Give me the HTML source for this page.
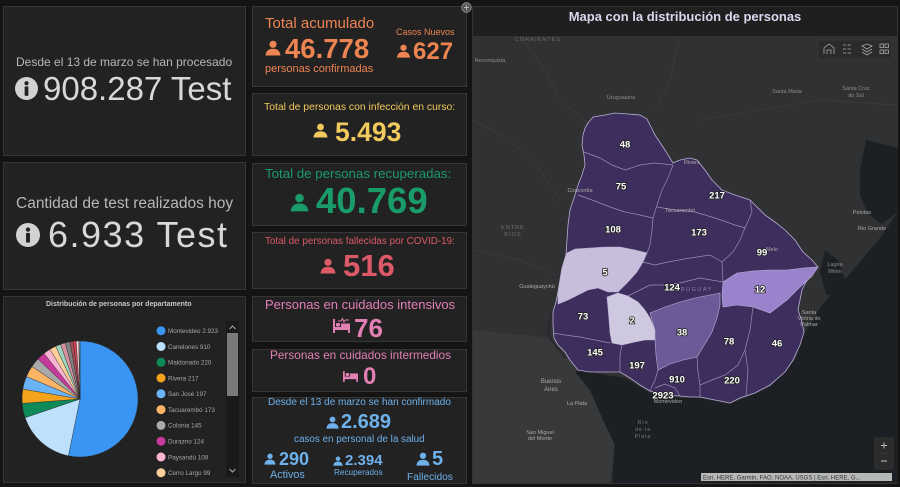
<!DOCTYPE html>
<html><head><meta charset="utf-8">
<style>
*{margin:0;padding:0;box-sizing:border-box}
html,body{width:900px;height:487px;overflow:hidden;background:#141414;font-family:"Liberation Sans",sans-serif}
.p{position:absolute;background:#222;border:1px solid #363636}
.t{position:absolute;white-space:nowrap;line-height:1}
.b{font-weight:bold}
svg.a{position:absolute;overflow:visible}
</style></head><body>

<!-- left column panels -->
<div class="p" style="left:3px;top:6px;width:243px;height:150px"></div>
<div class="p" style="left:3px;top:162px;width:243px;height:128px"></div>
<div class="p" style="left:3px;top:296px;width:243px;height:187px"></div>

<!-- middle column panels -->
<div class="p" style="left:252px;top:6px;width:215px;height:81px"></div>
<div class="p" style="left:252px;top:93px;width:215px;height:63px"></div>
<div class="p" style="left:252px;top:163px;width:215px;height:63px"></div>
<div class="p" style="left:252px;top:232px;width:215px;height:57px"></div>
<div class="p" style="left:252px;top:296px;width:215px;height:46px"></div>
<div class="p" style="left:252px;top:349px;width:215px;height:43px"></div>
<div class="p" style="left:252px;top:397px;width:215px;height:87px"></div>

<!-- map panel -->
<div class="p" style="left:472px;top:6px;width:426px;height:478px;background:#1f1f1f;border-color:#333"></div>

<!-- Panel 1 -->
<div class="t" style="left:16px;top:56.4px;font-size:12px;color:#b8b8b8">Desde el 13 de marzo se han procesado</div>
<svg class="a" style="left:15px;top:77px" width="23" height="23" viewBox="0 0 22 22"><circle cx="11" cy="11" r="11" fill="#d2d2d2"/><circle cx="11" cy="6" r="2" fill="#222"/><rect x="9.2" y="9" width="3.6" height="9" rx="0.8" fill="#222"/></svg>
<div class="t" style="left:43px;top:72px;font-size:33px;color:#d8d8d8">908.287 Test</div>

<!-- Panel 2 -->
<div class="t" style="left:16px;top:195.7px;font-size:15.5px;color:#b8b8b8">Cantidad de test realizados hoy</div>
<svg class="a" style="left:16px;top:223px" width="24" height="24" viewBox="0 0 22 22"><circle cx="11" cy="11" r="11" fill="#d2d2d2"/><circle cx="11" cy="6" r="2" fill="#222"/><rect x="9.2" y="9" width="3.6" height="9" rx="0.8" fill="#222"/></svg>
<div class="t" style="left:48px;top:217.3px;font-size:36px;color:#d8d8d8;letter-spacing:1.5px">6.933 Test</div>

<!-- Panel 3 pie -->
<div class="t b" style="left:46px;top:301.4px;font-size:7px;color:#c8c8c8">Distribución de personas por departamento</div>
<svg class="a" style="left:0;top:290px" width="250" height="197" viewBox="0 290 250 197">
<g stroke="#2a2a2a" stroke-width="0.4">
<path d="M80,399 L80,341 A58,58 0 1 1 68.37,455.82 Z" fill="#3a95f2"/>
<path d="M80,399 L68.37,455.82 A58,58 0 0 1 25.09,417.68 Z" fill="#bde0fd"/>
<path d="M80,399 L25.09,417.68 A58,58 0 0 1 22.17,403.42 Z" fill="#0e8a58"/>
<path d="M80,399 L22.17,403.42 A58,58 0 0 1 22.85,389.08 Z" fill="#f5a21c"/>
<path d="M80,399 L22.85,389.08 A58,58 0 0 1 26.51,376.56 Z" fill="#6bb3f7"/>
<path d="M80,399 L26.51,376.56 A58,58 0 0 1 31.97,366.48 Z" fill="#fbb463"/>
<path d="M80,399 L31.97,366.48 A58,58 0 0 1 38.00,359.00 Z" fill="#a9a9a9"/>
<path d="M80,399 L38.00,359.00 A58,58 0 0 1 44.08,353.46 Z" fill="#c63a9c"/>
<path d="M80,399 L44.08,353.46 A58,58 0 0 1 49.96,349.38 Z" fill="#fbb4d2"/>
<path d="M80,399 L49.96,349.38 A58,58 0 0 1 55.76,346.31 Z" fill="#fdd09a"/>
<path d="M80,399 L55.76,346.31 A58,58 0 0 1 60.55,344.36 Z" fill="#9fd5bf"/>
<path d="M80,399 L60.55,344.36 A58,58 0 0 1 65.31,342.89 Z" fill="#d7909f"/>
<path d="M80,399 L65.31,342.89 A58,58 0 0 1 70.04,341.86 Z" fill="#808080"/>
<path d="M80,399 L70.04,341.86 A58,58 0 0 1 73.19,341.40 Z" fill="#a84c5c"/>
<path d="M80,399 L73.19,341.40 A58,58 0 0 1 76.23,341.12 Z" fill="#d04050"/>
<path d="M80,399 L76.23,341.12 A58,58 0 0 1 78.74,341.01 Z" fill="#f2dce4"/>
<path d="M80,399 L78.74,341.01 A58,58 0 0 1 79.54,341.00 Z" fill="#ffffff"/>
<path d="M80,399 L79.54,341.00 A58,58 0 0 1 80,341 Z" fill="#bbbbbb"/>
</g>
<g>
<circle cx="161" cy="330.7" r="4.5" fill="#3a95f2"/>
<circle cx="161" cy="346.5" r="4.5" fill="#bde0fd"/>
<circle cx="161" cy="362.3" r="4.5" fill="#0e8a58"/>
<circle cx="161" cy="378" r="4.5" fill="#f5a21c"/>
<circle cx="161" cy="393.8" r="4.5" fill="#6bb3f7"/>
<circle cx="161" cy="409.6" r="4.5" fill="#fbb463"/>
<circle cx="161" cy="425.4" r="4.5" fill="#a9a9a9"/>
<circle cx="161" cy="441.2" r="4.5" fill="#c63a9c"/>
<circle cx="161" cy="457" r="4.5" fill="#fbb4d2"/>
<circle cx="161" cy="472.7" r="4.5" fill="#fdd09a"/>
</g>
<g font-family="Liberation Sans, sans-serif" font-size="6.3" fill="#a8a8a8">
<text x="168" y="333">Montevideo  2.923</text>
<text x="168" y="348.8">Canelones  910</text>
<text x="168" y="364.6">Maldonado  220</text>
<text x="168" y="380.3">Rivera  217</text>
<text x="168" y="396.1">San José  197</text>
<text x="168" y="411.9">Tacuarembó  173</text>
<text x="168" y="427.7">Colonia  145</text>
<text x="168" y="443.5">Durazno  124</text>
<text x="168" y="459.3">Paysandú  108</text>
<text x="168" y="475">Cerro Largo  99</text>
</g>
<rect x="226" y="321" width="13" height="156" fill="#1a1a1a"/>
<rect x="227" y="333" width="11" height="63" fill="#7a7a7a"/>
<path d="M229.5,329 L232.5,326 L235.5,329" fill="none" stroke="#aaa" stroke-width="1"/>
<path d="M229.5,469 L232.5,472 L235.5,469" fill="none" stroke="#aaa" stroke-width="1"/>
</svg>

<!-- Panel A -->
<div class="t" style="left:265px;top:16.3px;font-size:15px;color:#ee8452">Total acumulado</div>
<svg class="a" style="left:265px;top:40px" width="16" height="16" viewBox="0 0 16 16" fill="#ee8452"><circle cx="8" cy="4.3" r="3.6"/><path d="M0.5,15.5 C1,10.5 4,8.8 8,8.8 C12,8.8 15,10.5 15.5,15.5 Z"/></svg>
<div class="t b" style="left:285px;top:34.5px;font-size:27.5px;color:#ee8452">46.778</div>
<div class="t" style="left:265px;top:64.2px;font-size:11px;color:#ee8452">personas confirmadas</div>
<div class="t" style="left:396px;top:28.1px;font-size:9px;color:#ee8452">Casos Nuevos</div>
<svg class="a" style="left:396px;top:44px" width="15" height="14" viewBox="0 0 16 16" fill="#ee8452"><circle cx="8" cy="4.3" r="3.6"/><path d="M0.5,15.5 C1,10.5 4,8.8 8,8.8 C12,8.8 15,10.5 15.5,15.5 Z"/></svg>
<div class="t b" style="left:413px;top:39.9px;font-size:24px;color:#ee8452">627</div>

<!-- Panel B -->
<div class="t" style="left:264px;top:103.2px;font-size:10.4px;color:#f2c95c">Total de personas con infección en curso:</div>
<svg class="a" style="left:313px;top:123px" width="15" height="15" viewBox="0 0 16 16" fill="#f2c95c"><circle cx="8" cy="4.3" r="3.6"/><path d="M0.5,15.5 C1,10.5 4,8.8 8,8.8 C12,8.8 15,10.5 15.5,15.5 Z"/></svg>
<div class="t b" style="left:335px;top:118.6px;font-size:26.5px;color:#f2c95c">5.493</div>

<!-- Panel C -->
<div class="t" style="left:265px;top:166.7px;font-size:13.3px;color:#1a9b6a">Total de personas recuperadas:</div>
<svg class="a" style="left:290px;top:193px" width="19" height="19" viewBox="0 0 16 16" fill="#1a9b6a"><circle cx="8" cy="4.3" r="3.6"/><path d="M0.5,15.5 C1,10.5 4,8.8 8,8.8 C12,8.8 15,10.5 15.5,15.5 Z"/></svg>
<div class="t b" style="left:316px;top:183.2px;font-size:36.5px;color:#1a9b6a">40.769</div>

<!-- Panel D -->
<div class="t" style="left:265px;top:236.5px;font-size:9.9px;color:#dc5a67">Total de personas fallecidas por COVID-19:</div>
<svg class="a" style="left:320px;top:258px" width="16" height="16" viewBox="0 0 16 16" fill="#dc5a67"><circle cx="8" cy="4.3" r="3.6"/><path d="M0.5,15.5 C1,10.5 4,8.8 8,8.8 C12,8.8 15,10.5 15.5,15.5 Z"/></svg>
<div class="t b" style="left:343px;top:250px;font-size:31px;color:#dc5a67">516</div>

<!-- Panel E -->
<div class="t" style="left:265px;top:297.8px;font-size:13px;color:#e27fb5">Personas en cuidados intensivos</div>
<svg class="a" style="left:333px;top:318px" width="17" height="15" viewBox="0 0 17 15" fill="#e27fb5"><rect x="0" y="1" width="2" height="14"/><rect x="0" y="9" width="17" height="3"/><rect x="15" y="7" width="2" height="8"/><rect x="3" y="5" width="4" height="3.5" rx="1"/><rect x="8" y="5.5" width="9" height="3.5"/><path d="M5,3 L8,3 L9.5,0.5 L11,4 L12.5,2 L16,2" fill="none" stroke="#e27fb5" stroke-width="1"/></svg>
<div class="t b" style="left:354px;top:314.6px;font-size:26px;color:#e27fb5">76</div>

<!-- Panel F -->
<div class="t" style="left:270px;top:350.4px;font-size:11.8px;color:#e27fb5">Personas en cuidados intermedios</div>
<svg class="a" style="left:343px;top:371px" width="15" height="11" viewBox="0 0 17 12" fill="#e27fb5"><rect x="0" y="0" width="2" height="12"/><rect x="0" y="6" width="17" height="3"/><rect x="15" y="4" width="2" height="8"/><rect x="3" y="2" width="4" height="3.5" rx="1"/><rect x="8" y="2.5" width="9" height="3.5"/></svg>
<div class="t b" style="left:363px;top:364.9px;font-size:24px;color:#e27fb5">0</div>

<!-- Panel G -->
<div class="t" style="left:268px;top:397.5px;font-size:10px;color:#6eb0ea">Desde el 13 de marzo se han confirmado</div>
<svg class="a" style="left:326px;top:416px" width="13" height="13" viewBox="0 0 16 16" fill="#6eb0ea"><circle cx="8" cy="4.3" r="3.6"/><path d="M0.5,15.5 C1,10.5 4,8.8 8,8.8 C12,8.8 15,10.5 15.5,15.5 Z"/></svg>
<div class="t b" style="left:341px;top:412.4px;font-size:20px;color:#6eb0ea">2.689</div>
<div class="t" style="left:294px;top:434.5px;font-size:9.9px;color:#6eb0ea">casos en personal de la salud</div>
<svg class="a" style="left:264px;top:453px" width="12" height="12" viewBox="0 0 16 16" fill="#6eb0ea"><circle cx="8" cy="4.3" r="3.6"/><path d="M0.5,15.5 C1,10.5 4,8.8 8,8.8 C12,8.8 15,10.5 15.5,15.5 Z"/></svg>
<div class="t b" style="left:279px;top:450.4px;font-size:18px;color:#6eb0ea">290</div>
<div class="t" style="left:270px;top:469.5px;font-size:10.8px;color:#6eb0ea">Activos</div>
<svg class="a" style="left:333px;top:456px" width="10" height="10" viewBox="0 0 16 16" fill="#6eb0ea"><circle cx="8" cy="4.3" r="3.6"/><path d="M0.5,15.5 C1,10.5 4,8.8 8,8.8 C12,8.8 15,10.5 15.5,15.5 Z"/></svg>
<div class="t b" style="left:345px;top:453px;font-size:15px;color:#6eb0ea">2.394</div>
<div class="t" style="left:334px;top:468.6px;font-size:8.2px;color:#6eb0ea">Recuperados</div>
<svg class="a" style="left:416px;top:452px" width="14" height="14" viewBox="0 0 16 16" fill="#6eb0ea"><circle cx="8" cy="4.3" r="3.6"/><path d="M0.5,15.5 C1,10.5 4,8.8 8,8.8 C12,8.8 15,10.5 15.5,15.5 Z"/></svg>
<div class="t b" style="left:432px;top:449.4px;font-size:20px;color:#6eb0ea">5</div>
<div class="t" style="left:407px;top:472.5px;font-size:10.2px;color:#6eb0ea">Fallecidos</div>

<!-- Map -->
<div class="t b" style="left:473px;width:424px;text-align:center;top:10px;font-size:13px;color:#dcd6ee">Mapa con la distribución de personas</div>
<svg class="a" style="left:473px;top:36px" width="424" height="447" viewBox="473 36 424 447">
<rect x="473" y="36" width="424" height="447" fill="#303133"/>
<polygon points="473,330 553,338 565,352 580,372 598,400 615,440 610,483 473,483" fill="#38393b"/>
<g fill="none" stroke="#3b3c3e" stroke-width="0.8">
<polyline points="520,36 545,70 560,100 590,125"/>
<polyline points="473,120 510,140 540,170 560,200"/>
<polyline points="680,36 670,80 655,110"/>
<polyline points="700,120 760,110 820,100 897,105"/>
<polyline points="473,250 520,260 555,275"/>
</g>
<polygon points="898,212 880,238 860,262 840,285 822,305 810,325 803,335 795,360 770,387 730,404 700,398 680,398 650,393 625,378 600,374 580,370 575,372 590,390 603,420 615,445 612,483 898,483" fill="#1c1f23"/>
<polygon points="866,140 898,148 898,212 882,224 868,214 860,195 860,170" fill="#1c1f23"/>
<polygon points="825,250 838,260 846,282 839,300 826,294 820,272" fill="#1c1f23"/>
<polyline points="560,300 550,318 548,335 556,346 566,358" fill="none" stroke="#26282b" stroke-width="2"/>
<!-- Uruguay -->
<polygon points="588,123 593,117 605,115 615,113 628,114 640,115 647,119 655,135 665,150 673,163 680,160 690,158 697,160 705,170 712,180 722,190 735,195 750,200 757,207 765,215 775,222 785,230 795,240 803,252 812,260 818,267 812,275 806,282 802,290 800,300 798,310 802,322 804,332 800,345 793,360 785,372 770,385 755,393 740,398 730,403 715,400 700,397 690,397 680,396 665,395 650,391 640,385 630,378 620,372 605,372 590,372 578,370 570,360 565,352 558,345 554,338 553,325 553,312 556,302 558,292 560,280 562,268 566,255 567,240 568,225 570,210 575,195 578,185 582,175 585,165 584,155 582,145 583,135 585,128" fill="#3e2e5e" stroke="#b8b0d4" stroke-width="0.8"/>
<polygon points="567,253 575,249 590,248 605,247 620,247 635,250 647,253 643,262 637,272 628,282 618,292 608,292 598,288 588,290 578,295 568,300 558,304 558,292 560,280 562,268 566,255" fill="#c6bedb" stroke="#b8b0d4" stroke-width="0.6"/>
<polygon points="607,297 618,293 628,296 638,302 645,310 650,318 655,330 655,340 645,340 635,342 622,345 612,343 610,333 609,320 608,308" fill="#cfc8e1" stroke="#b8b0d4" stroke-width="0.6"/>
<polygon points="650,313 665,307 680,302 695,298 710,295 720,293 720,305 717,318 712,332 703,347 697,357 683,360 670,364 658,370 656,355 655,340 655,330" fill="#6c5a98" stroke="#b8b0d4" stroke-width="0.6"/>
<polygon points="723,282 737,273 752,271 770,270 787,270 803,268 818,267 812,276 800,287 787,300 770,313 753,307 737,305 723,307 722,295" fill="#9a82cc" stroke="#b8b0d4" stroke-width="0.6"/>
<g fill="none" stroke="#a79fc4" stroke-width="0.7" opacity="0.85">
<polyline points="584,152 600,158 612,165 625,170 640,165 655,163 673,165"/>
<polyline points="578,195 592,200 610,207 625,212 640,215 653,218"/>
<polyline points="673,165 668,178 662,190 657,205 653,218 652,230 650,245 647,253"/>
<polyline points="657,207 675,210 695,212 715,218 735,225 745,228"/>
<polyline points="750,200 752,212 745,228 740,240 733,252 722,262 723,282"/>
<polyline points="643,262 655,265 668,262 690,258 710,255 722,262"/>
<polyline points="628,296 640,290 650,285 665,285 680,283 700,278 723,282"/>
<polyline points="553,333 565,335 580,337 595,340 610,343"/>
<polyline points="622,345 620,355 620,372"/>
<polyline points="658,370 655,380 650,391"/>
<polyline points="697,357 698,372 700,385 700,397"/>
<polyline points="753,307 750,330 745,350 748,370 746,396"/>
<polyline points="700,385 712,380 725,375 738,365 745,350"/>
<polyline points="655,388 665,384 675,388 680,396"/>
</g>
<g font-family="Liberation Sans, sans-serif" font-size="5.5" fill="#8c8c8c" text-anchor="middle">
<text x="538" y="41" fill="#6e6e6e" letter-spacing="1">CORRIENTES</text>
<text x="490" y="62">Reconquista</text>
<text x="621" y="99">Uruguaiana</text>
<text x="787" y="93">Santa Maria</text>
<text x="856" y="90">Santa Cruz</text>
<text x="856" y="97">do Sul</text>
<text x="513" y="229" fill="#707070" letter-spacing="1">ENTRE</text>
<text x="513" y="236" fill="#707070" letter-spacing="1">RIOS</text>
<text x="580" y="192" fill="#aaa">Concordia</text>
<text x="692" y="164" fill="#aaa">Rivera</text>
<text x="680" y="212" fill="#aaa">Tacuarembó</text>
<text x="772" y="251" fill="#aaa">Melo</text>
<text x="862" y="214" fill="#aaa">Pelotas</text>
<text x="872" y="230" fill="#aaa">Rio Grande</text>
<text x="835" y="266">Lagoa</text>
<text x="835" y="273">Mirim</text>
<text x="537" y="288" fill="#aaa">Gualeguaychú</text>
<text x="694" y="291" fill="#8a80a8" letter-spacing="1.5">URUGUAY</text>
<text x="809" y="314" fill="#aaa">Santa</text>
<text x="809" y="320" fill="#aaa">Vitória do</text>
<text x="809" y="326" fill="#aaa">Palmar</text>
<text x="551" y="383" fill="#aaa" font-size="6">Buenos</text>
<text x="551" y="391" fill="#aaa" font-size="6">Aires</text>
<text x="577" y="405" fill="#aaa">La Plata</text>
<text x="540" y="434" fill="#aaa">San Miguel</text>
<text x="540" y="440" fill="#aaa">del Monte</text>
<text x="643" y="424" fill="#777" letter-spacing="0.8">Río</text>
<text x="643" y="431" fill="#777" letter-spacing="0.8">de la</text>
<text x="643" y="438" fill="#777" letter-spacing="0.8">Plata</text>
<text x="668" y="403" fill="#aaa">Montevideo</text>
</g>
<g font-family="Liberation Sans, sans-serif" font-size="9.5" font-weight="bold" fill="#ffffff" stroke="#222" stroke-width="1.6" paint-order="stroke" text-anchor="middle" dominant-baseline="central">
<text x="625" y="145">48</text>
<text x="621" y="187">75</text>
<text x="717" y="196">217</text>
<text x="613" y="230">108</text>
<text x="699" y="233">173</text>
<text x="762" y="253">99</text>
<text x="605" y="273">5</text>
<text x="672" y="288">124</text>
<text x="760" y="290">12</text>
<text x="583" y="317">73</text>
<text x="632" y="321">2</text>
<text x="682" y="333">38</text>
<text x="729" y="342">78</text>
<text x="777" y="344">46</text>
<text x="595" y="353">145</text>
<text x="637" y="366">197</text>
<text x="677" y="380">910</text>
<text x="732" y="381">220</text>
<text x="663" y="396">2923</text>
</g>
<!-- toolbar -->
<rect x="818" y="40" width="74" height="19" fill="#2b2b2c" stroke="#3d3d3d" stroke-width="0.6"/>
<g fill="none" stroke="#a8a8a8" stroke-width="0.8">
<path d="M824,54 L824,48 L829,44 L834,48 L834,54 M827,54 L827,50 L831,50 L831,54"/>
<path d="M843,45 L846,45 M843,49 L846,49 M843,53 L846,53 M847.5,45 L851,45 M847.5,49 L851,49 M847.5,53 L851,53"/>
<path d="M862,46 L867,44 L872,46 L867,49 Z M862,49 L867,52 L872,49 M862,52 L867,55 L872,52"/>
<rect x="880" y="44" width="3.5" height="3.5"/><rect x="885" y="44" width="3.5" height="3.5"/><rect x="880" y="50" width="3.5" height="3.5"/><rect x="885" y="50" width="3.5" height="3.5"/>
</g>
<!-- zoom -->
<rect x="875" y="438" width="18" height="31" fill="#2b2b2c" stroke="#3d3d3d" stroke-width="0.6"/>
<line x1="876" y1="453.5" x2="892" y2="453.5" stroke="#3d3d3d" stroke-width="0.6"/>
<path d="M881,445.5 L887,445.5 M884,442.5 L884,448.5 M881,461 L887,461" stroke="#c0c0c0" stroke-width="0.9"/>
<!-- attribution -->
<rect x="701" y="473" width="191" height="8" fill="#c9c9c9" opacity="0.9"/>
<text x="703" y="479.3" font-family="Liberation Sans, sans-serif" font-size="6" fill="#333">Esri, HERE, Garmin, FAO, NOAA, USGS | Esri, HERE, G...</text>
</svg>

<!-- small icon -->
<svg class="a" style="left:461px;top:2px" width="11" height="11" viewBox="0 0 11 11"><circle cx="5.5" cy="5.5" r="4.8" fill="#555" stroke="#9a9a9a" stroke-width="0.8"/><path d="M3,5.5 L8,5.5 M5.5,3 L5.5,8" stroke="#ccc" stroke-width="0.8"/></svg>

</body></html>
